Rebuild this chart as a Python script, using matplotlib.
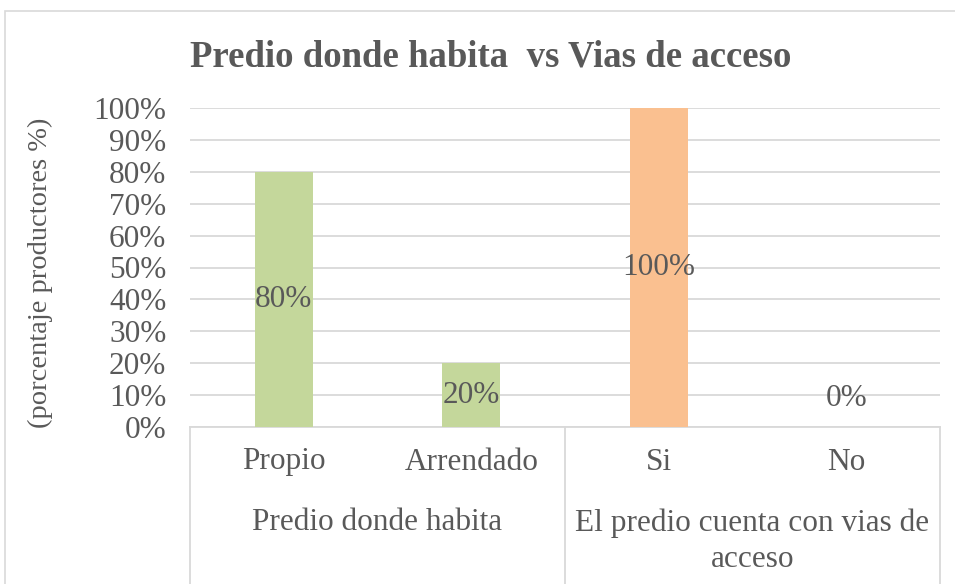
import matplotlib
matplotlib.use('Agg')
import matplotlib.pyplot as plt
from matplotlib.patches import Rectangle
from matplotlib.lines import Line2D
from matplotlib.transforms import blended_transform_factory

categories = ['Propio', 'Arrendado', 'Si', 'No']
values = [0.80, 0.20, 1.00, 0.00]
groups = ['Predio donde habita', 'El predio cuenta con vias de\nacceso']
group_sizes = [2, 2]
colors = ['#C4D79B', '#C4D79B', '#FAC090', '#FAC090']
y_ticks = [i / 10 for i in range(11)]

plt.rcParams['font.family'] = ['Liberation Serif', 'DejaVu Serif']
txt = '#595959'
grid = '#D9D9D9'
fs = 22.5

W, H = 955, 584
fig = plt.figure(figsize=(W / 100, H / 100), dpi=100)
fig.patches.append(Rectangle((5 / W, -0.1), 1.2, 1 - 11 / H + 0.1, transform=fig.transFigure,
                             fill=False, edgecolor=grid, linewidth=1.2))

left, right, top, bottom = 190, 940, 108, 427
ax = fig.add_axes([left / W, 1 - bottom / H, (right - left) / W, (bottom - top) / H])

x = list(range(len(categories)))
ax.bar(x, values, width=0.31, color=colors, zorder=3)
ax.set_xlim(-0.5, len(categories) - 0.5)
ax.set_ylim(0, 1)
ax.set_yticks(y_ticks)
ax.set_yticklabels([f'{int(round(t * 100))}%' for t in y_ticks], fontsize=fs, color=txt)
ax.tick_params(axis='y', length=0, pad=17)
ax.set_xticks([])
ax.yaxis.grid(True, color=grid, linewidth=1.3, zorder=0)
for s in ['top', 'right', 'left']:
    ax.spines[s].set_visible(False)
ax.spines['bottom'].set_color(grid)
ax.spines['bottom'].set_linewidth(1.3)

for xi, v in zip(x, values):
    yl = v / 2 if v > 0 else 0.09
    ax.text(xi, yl, f'{int(round(v * 100))}%', ha='center', va='center', fontsize=fs, color=txt, zorder=4)

trans = blended_transform_factory(ax.transData, ax.transAxes)
ypx = lambda py: (bottom - py) / (bottom - top)
for xi, c in zip(x, categories):
    ax.text(xi, ypx(462), c, transform=trans, ha='center', va='center', fontsize=fs, color=txt)

pos = -0.5
ax.add_line(Line2D([pos, pos], [0, ypx(600)], transform=trans, color=grid, linewidth=1.3, clip_on=False))
for g, n in zip(groups, group_sizes):
    center = pos + n / 2
    ax.text(center, ypx(508), g, transform=trans, ha='center', va='top', fontsize=fs, color=txt,
            linespacing=1.32)
    pos += n
    ax.add_line(Line2D([pos, pos], [0, ypx(600)], transform=trans, color=grid, linewidth=1.3, clip_on=False))

fig.text(40 / W, 1 - 273 / H, '(porcentaje productores %)', rotation=90, ha='center', va='center',
         fontsize=20.5, color=txt)
fig.text(491 / W, 1 - 57 / H, 'Predio donde habita  vs Vias de acceso', ha='center', va='center',
         fontsize=26.5, fontweight='bold', color=txt)

fig.savefig('out.png', dpi=100)
